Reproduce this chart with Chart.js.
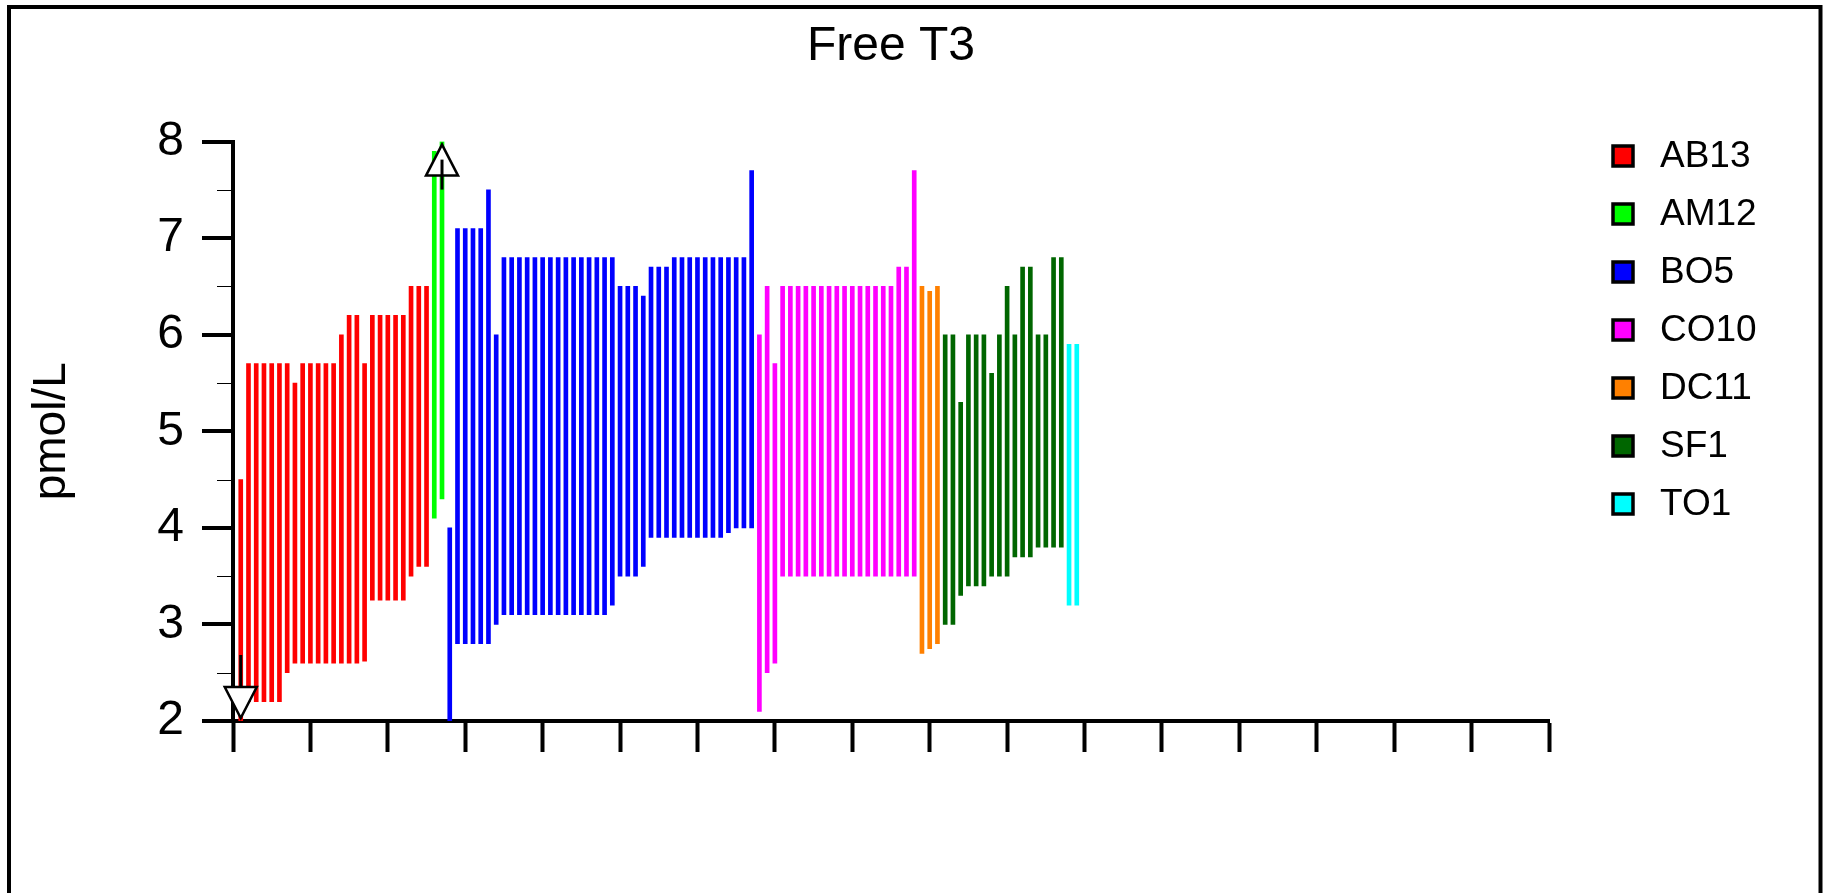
<!DOCTYPE html>
<html>
<head>
<meta charset="utf-8">
<title>Free T3</title>
<script src="https://cdn.jsdelivr.net/npm/chart.js@4.4.1/dist/chart.umd.min.js"></script>
<style>
  html, body { margin: 0; padding: 0; background: #ffffff; }
  #wrap { width: 1827px; height: 893px; }
</style>
</head>
<body>
<div id="wrap"><canvas id="chart" width="1827" height="893"></canvas></div>
<script>
// Free T3 reference ranges (pmol/L) per laboratory, one floating bar per assay, numbered left to right.
const seriesNames  = ['AB13', 'AM12', 'BO5', 'CO10', 'DC11', 'SF1', 'TO1'];
const seriesColors = ['#ff0000', '#00ff00', '#0000ff', '#ff00ff', '#ff8000', '#006600', '#00ffff'];

const ab13Low  = [2.0, 2.2, 2.2, 2.2, 2.2, 2.2, 2.5, 2.6, 2.6, 2.6, 2.6, 2.6, 2.6, 2.6, 2.6, 2.6, 2.62, 3.25, 3.25, 3.25, 3.25, 3.25, 3.5, 3.6, 3.6];
const ab13High = [4.5, 5.7, 5.7, 5.7, 5.7, 5.7, 5.7, 5.5, 5.7, 5.7, 5.7, 5.7, 5.7, 6.0, 6.2, 6.2, 5.7, 6.2, 6.2, 6.2, 6.2, 6.2, 6.5, 6.5, 6.5];

const am12Low  = [4.1, 4.3];
const am12High = [7.9, 8.0];

const bo5Low  = [2.0, 2.8, 2.8, 2.8, 2.8, 2.8, 3.0, 3.1, 3.1, 3.1, 3.1, 3.1, 3.1, 3.1, 3.1, 3.1, 3.1, 3.1, 3.1, 3.1, 3.1, 3.2, 3.5, 3.5, 3.5, 3.6, 3.9, 3.9, 3.9, 3.9, 3.9, 3.9, 3.9, 3.9, 3.9, 3.9, 3.95, 4.0, 4.0, 4.0];
const bo5High = [4.0, 7.1, 7.1, 7.1, 7.1, 7.5, 6.0, 6.8, 6.8, 6.8, 6.8, 6.8, 6.8, 6.8, 6.8, 6.8, 6.8, 6.8, 6.8, 6.8, 6.8, 6.8, 6.5, 6.5, 6.5, 6.4, 6.7, 6.7, 6.7, 6.8, 6.8, 6.8, 6.8, 6.8, 6.8, 6.8, 6.8, 6.8, 6.8, 7.7];

const co10Low  = [2.1, 2.5, 2.6, 3.5, 3.5, 3.5, 3.5, 3.5, 3.5, 3.5, 3.5, 3.5, 3.5, 3.5, 3.5, 3.5, 3.5, 3.5, 3.5, 3.5, 3.5];
const co10High = [6.0, 6.5, 5.7, 6.5, 6.5, 6.5, 6.5, 6.5, 6.5, 6.5, 6.5, 6.5, 6.5, 6.5, 6.5, 6.5, 6.5, 6.5, 6.7, 6.7, 7.7];

const dc11Low  = [2.7, 2.75, 2.8];
const dc11High = [6.5, 6.45, 6.5];

const sf1Low  = [3.0, 3.0, 3.3, 3.4, 3.4, 3.4, 3.5, 3.5, 3.5, 3.7, 3.7, 3.7, 3.8, 3.8, 3.8, 3.8];
const sf1High = [6.0, 6.0, 5.3, 6.0, 6.0, 6.0, 5.6, 6.0, 6.5, 6.0, 6.7, 6.7, 6.0, 6.0, 6.8, 6.8];

const to1Low  = [3.2, 3.2];
const to1High = [5.9, 5.9];

const seriesLow  = [ab13Low, am12Low, bo5Low, co10Low, dc11Low, sf1Low, to1Low];
const seriesHigh = [ab13High, am12High, bo5High, co10High, dc11High, sf1High, to1High];

// Assays whose range runs past the plotted scale (flagged with open arrows).
const belowScale = [1];
const aboveScale = [27];

// Axis ranges and tick steps
const yMin = 2, yMax = 8, yStep = 0.5;
const xMin = 0, xMax = 170, xStep = 10;

const FONT = "'Liberation Sans', Arial, Helvetica, sans-serif";
const AXIS_W = 4;

// Build one floating-bar dataset per laboratory; assays are numbered consecutively.
let assayNo = 0;
const datasets = seriesNames.map((name, s) => {
  const pts = seriesLow[s].map((lo, k) => {
    assayNo += 1;
    return { x: assayNo, y: [lo, seriesHigh[s][k]] };
  });
  return {
    label: name,
    data: pts,
    backgroundColor: seriesColors[s],
    borderWidth: 0,
    barThickness: 4,
    grouped: false
  };
});

// Frame round the whole figure
const framePlugin = {
  id: 'frame',
  afterDraw(chart) {
    const ctx = chart.ctx;
    ctx.save();
    ctx.strokeStyle = '#000';
    ctx.lineWidth = 4;
    ctx.strokeRect(9, 7, 1811.5, 1000);
    ctx.restore();
  }
};

// Long ticks at whole units, short ticks at half units on the value axis
const yTickPlugin = {
  id: 'yTicks',
  afterDraw(chart) {
    const ys = chart.scales.y;
    const ctx = chart.ctx;
    const x0 = ys.right;
    ctx.save();
    ctx.strokeStyle = '#000';
    ys.ticks.forEach(t => {
      const py = Math.round(ys.getPixelForValue(t.value));
      const major = Math.abs(t.value - Math.round(t.value)) < 1e-6;
      ctx.lineWidth = major ? AXIS_W : 1;
      const off = major ? 0 : 0.5;
      ctx.beginPath();
      ctx.moveTo(x0 - (major ? 31 : 16), py + off);
      ctx.lineTo(x0, py + off);
      ctx.stroke();
    });
    ctx.restore();
  }
};

// Open triangle markers for ranges that continue beyond the axis limits
const offScalePlugin = {
  id: 'offScale',
  afterDraw(chart) {
    const xs = chart.scales.x, ys = chart.scales.y;
    const ctx = chart.ctx;
    const w = 32, h = 31;
    ctx.save();
    ctx.strokeStyle = '#000';
    ctx.fillStyle = '#fff';
    belowScale.forEach(id => {
      const px = xs.getPixelForValue(id);
      const tip = ys.getPixelForValue(yMin) - 3;
      const base = tip - h;
      ctx.lineWidth = 2.5;
      ctx.beginPath();
      ctx.moveTo(px - w / 2, base);
      ctx.lineTo(px + w / 2, base);
      ctx.lineTo(px, tip);
      ctx.closePath();
      ctx.fill();
      ctx.stroke();
      ctx.lineWidth = 3;
      ctx.beginPath();
      ctx.moveTo(px, base - 32);
      ctx.lineTo(px, base);
      ctx.stroke();
    });
    aboveScale.forEach(id => {
      const px = xs.getPixelForValue(id);
      const tip = ys.getPixelForValue(yMax) + 3;
      const base = tip + h;
      ctx.lineWidth = 2.5;
      ctx.beginPath();
      ctx.moveTo(px - w / 2, base);
      ctx.lineTo(px + w / 2, base);
      ctx.lineTo(px, tip);
      ctx.closePath();
      ctx.fill();
      ctx.stroke();
      ctx.lineWidth = 3;
      ctx.beginPath();
      ctx.moveTo(px, tip + 15);
      ctx.lineTo(px, base + 14);
      ctx.stroke();
    });
    ctx.restore();
  }
};

// Legend column on the right
const legendPlugin = {
  id: 'sideLegend',
  afterDraw(chart) {
    const ctx = chart.ctx;
    ctx.save();
    ctx.font = '37px ' + FONT;
    ctx.textAlign = 'left';
    ctx.textBaseline = 'middle';
    chart.data.datasets.forEach((ds, i) => {
      const cy = 156 + 58 * i;
      ctx.fillStyle = ds.backgroundColor;
      ctx.fillRect(1613, cy - 10, 20, 20);
      ctx.strokeStyle = '#000';
      ctx.lineWidth = 3.5;
      ctx.strokeRect(1613, cy - 10, 20, 20);
      ctx.fillStyle = '#000';
      ctx.fillText(ds.label, 1660, cy + 1);
    });
    ctx.restore();
  }
};

new Chart(document.getElementById('chart'), {
  type: 'bar',
  data: { datasets },
  options: {
    responsive: false,
    animation: false,
    devicePixelRatio: 1,
    layout: { padding: { left: 0, right: 278, top: 0, bottom: 0 } },
    plugins: {
      legend: { display: false },
      tooltip: { enabled: false },
      title: {
        display: true,
        text: 'Free T3',
        fullSize: false,
        color: '#000',
        font: { family: FONT, size: 48, weight: 'normal' },
        padding: { top: 18, bottom: 66 }
      }
    },
    scales: {
      x: {
        type: 'linear',
        min: xMin,
        max: xMax,
        offset: false,
        ticks: { stepSize: xStep, display: false },
        grid: {
          display: true,
          offset: false,
          drawOnChartArea: false,
          drawTicks: true,
          tickLength: 31,
          tickWidth: AXIS_W,
          tickColor: '#000'
        },
        border: { display: true, color: '#000', width: AXIS_W },
        afterFit(scale) { scale.height = 172; }
      },
      y: {
        type: 'linear',
        min: yMin,
        max: yMax,
        ticks: {
          stepSize: yStep,
          autoSkip: false,
          padding: 18,
          color: '#000',
          font: { family: FONT, size: 48 },
          callback: v => (Math.abs(v - Math.round(v)) < 1e-6 ? String(Math.round(v)) : '')
        },
        grid: { display: false, drawTicks: true, tickLength: 31 },
        border: { display: true, color: '#000', width: AXIS_W },
        title: {
          display: true,
          text: 'pmol/L',
          color: '#000',
          font: { family: FONT, size: 46 },
          padding: { top: 25, bottom: 0 }
        },
        afterFit(scale) { scale.width = 233; }
      }
    }
  },
  plugins: [yTickPlugin, offScalePlugin, legendPlugin, framePlugin]
});
</script>
</body>
</html>
